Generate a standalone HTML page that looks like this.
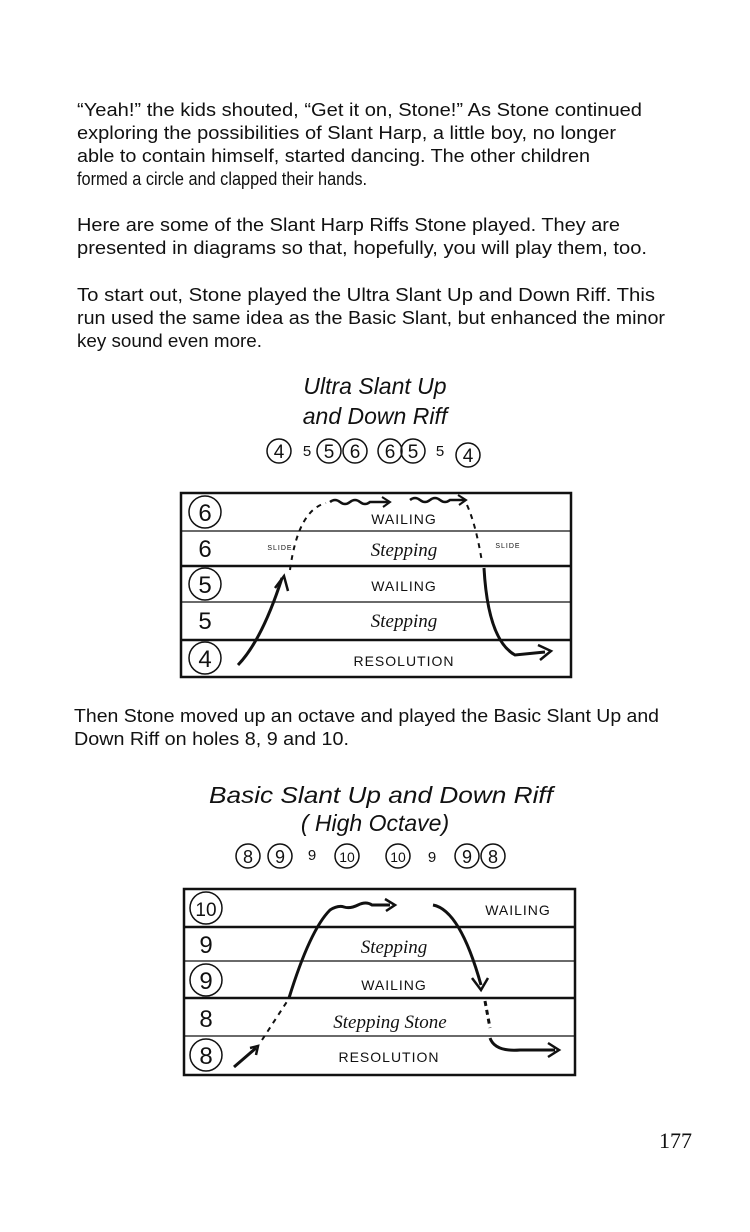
<!DOCTYPE html>
<html><head><meta charset="utf-8"><style>
html,body{margin:0;padding:0;background:#fff}
svg{display:block}
.p{font-family:"Liberation Sans",sans-serif;font-size:18px;fill:#111}
.h{font-family:"Liberation Sans",sans-serif;font-size:23px;fill:#111;font-style:italic}
.l{font-family:"Liberation Sans",sans-serif;font-size:14px;fill:#111;letter-spacing:1px}
.s{font-family:"Liberation Serif",serif;font-size:19px;fill:#111;font-style:italic}
.n{font-family:"Liberation Sans",sans-serif;font-size:24px;fill:#111}
</style></head><body>
<svg width="750" height="1232" viewBox="0 0 750 1232" xmlns="http://www.w3.org/2000/svg">
<text class="p" x="77" y="116" textLength="565" lengthAdjust="spacingAndGlyphs">“Yeah!” the kids shouted, “Get it on, Stone!” As Stone continued</text>
<text class="p" x="77" y="139" textLength="539" lengthAdjust="spacingAndGlyphs">exploring the possibilities of Slant Harp, a little boy, no longer</text>
<text class="p" x="77" y="162" textLength="513" lengthAdjust="spacingAndGlyphs">able to contain himself, started dancing. The other children</text>
<text class="p" x="77" y="185" textLength="290" lengthAdjust="spacingAndGlyphs">formed a circle and clapped their hands.</text>
<text class="p" x="77" y="231" textLength="543" lengthAdjust="spacingAndGlyphs">Here are some of the Slant Harp Riffs Stone played. They are</text>
<text class="p" x="77" y="254" textLength="570" lengthAdjust="spacingAndGlyphs">presented in diagrams so that, hopefully, you will play them, too.</text>
<text class="p" x="77" y="301" textLength="578" lengthAdjust="spacingAndGlyphs">To start out, Stone played the Ultra Slant Up and Down Riff. This</text>
<text class="p" x="77" y="324" textLength="588" lengthAdjust="spacingAndGlyphs">run used the same idea as the Basic Slant, but enhanced the minor</text>
<text class="p" x="77" y="347" textLength="185" lengthAdjust="spacingAndGlyphs">key sound even more.</text>

<text class="h" x="375" y="394" text-anchor="middle">Ultra Slant Up</text>
<text class="h" x="375" y="424" text-anchor="middle">and Down Riff</text>
<g fill="none" stroke="#111" stroke-width="1.5">
<circle cx="279" cy="451" r="12"/><circle cx="329" cy="451" r="12"/><circle cx="355" cy="451" r="12"/><circle cx="390" cy="451" r="12"/><circle cx="413" cy="451" r="12"/><circle cx="468" cy="455" r="12"/>
</g>
<g class="n" style="font-size:19px" text-anchor="middle">
<text x="279" y="458">4</text><text x="307" y="456" style="font-size:15px">5</text><text x="329" y="458">5</text><text x="355" y="458">6</text><text x="390" y="458">6</text><text x="413" y="458">5</text><text x="440" y="456" style="font-size:15px">5</text><text x="468" y="462">4</text>
</g>

<g stroke="#111" fill="none">
<rect x="181" y="493" width="390" height="184" stroke-width="2.5"/>
<line x1="181" y1="531" x2="571" y2="531" stroke-width="1.2"/>
<line x1="181" y1="566" x2="571" y2="566" stroke-width="2.5"/>
<line x1="181" y1="602" x2="571" y2="602" stroke-width="1.2"/>
<line x1="181" y1="640" x2="571" y2="640" stroke-width="2.5"/>
<circle cx="205" cy="512" r="16" stroke-width="1.5"/>
<circle cx="205" cy="584" r="16" stroke-width="1.5"/>
<circle cx="205" cy="658" r="16" stroke-width="1.5"/>
<path d="M238 665 Q262 640 282 578" stroke-width="3"/>
<path d="M275 588 L284 576 L288 591" stroke-width="2.5"/>
<path d="M290 570 Q298 510 326 503" stroke-width="2" stroke-dasharray="5,5"/>
<path d="M330 502 q5 -4 10 0 t10 0 t10 0 t10 0 L388 502" stroke-width="2.5"/>
<path d="M382 497 L390 502 L383 507" stroke-width="2"/>
<path d="M410 500 q5 -4 10 0 t10 0 t10 0 t10 0 L465 500" stroke-width="2.5"/>
<path d="M458 495 L466 500 L459 505" stroke-width="2"/>
<path d="M467 505 Q476 525 482 562" stroke-width="2" stroke-dasharray="5,5"/>
<path d="M484 568 Q488 640 515 655 L545 652" stroke-width="3"/>
<path d="M538 645 L551 651 L540 660" stroke-width="2.5"/>
</g>
<g text-anchor="middle">
<text class="n" x="205" y="521">6</text><text class="n" x="205" y="557">6</text><text class="n" x="205" y="593">5</text><text class="n" x="205" y="629">5</text><text class="n" x="205" y="667">4</text>
<text class="l" x="404" y="524">WAILING</text>
<text class="s" x="404" y="556">Stepping</text>
<text class="l" x="404" y="591">WAILING</text>
<text class="s" x="404" y="627">Stepping</text>
<text class="l" x="404" y="666">RESOLUTION</text>
<text class="l" x="280" y="550" style="font-size:7px">SLIDE</text>
<text class="l" x="508" y="548" style="font-size:7px">SLIDE</text>
</g>

<text class="p" x="74" y="722" textLength="585" lengthAdjust="spacingAndGlyphs">Then Stone moved up an octave and played the Basic Slant Up and</text>
<text class="p" x="74" y="745" textLength="275" lengthAdjust="spacingAndGlyphs">Down Riff on holes 8, 9 and 10.</text>

<text class="h" x="209" y="803" textLength="344" lengthAdjust="spacingAndGlyphs">Basic Slant Up and Down Riff</text>
<text class="h" x="375" y="831" text-anchor="middle">( High Octave)</text>
<g fill="none" stroke="#111" stroke-width="1.5">
<circle cx="248" cy="856" r="12"/><circle cx="280" cy="856" r="12"/><circle cx="347" cy="856" r="12"/><circle cx="398" cy="856" r="12"/><circle cx="467" cy="856" r="12"/><circle cx="493" cy="856" r="12"/>
</g>
<g class="n" style="font-size:18px" text-anchor="middle">
<text x="248" y="863">8</text><text x="280" y="863">9</text><text x="312" y="860" style="font-size:15px">9</text><text x="347" y="862" style="font-size:14px">10</text><text x="398" y="862" style="font-size:14px">10</text><text x="432" y="862" style="font-size:15px">9</text><text x="467" y="863">9</text><text x="493" y="863">8</text>
</g>

<g stroke="#111" fill="none">
<rect x="184" y="889" width="391" height="186" stroke-width="2.5"/>
<line x1="184" y1="927" x2="575" y2="927" stroke-width="2.5"/>
<line x1="184" y1="961" x2="575" y2="961" stroke-width="1.2"/>
<line x1="184" y1="998" x2="575" y2="998" stroke-width="2.5"/>
<line x1="184" y1="1036" x2="575" y2="1036" stroke-width="1.2"/>
<circle cx="206" cy="908" r="16" stroke-width="1.5"/>
<circle cx="206" cy="980" r="16" stroke-width="1.5"/>
<circle cx="206" cy="1055" r="16" stroke-width="1.5"/>
<path d="M234 1067 L256 1048" stroke-width="3"/>
<path d="M250 1048 L258 1046 L256 1055" stroke-width="2.5"/>
<path d="M262 1040 L288 1000" stroke-width="2" stroke-dasharray="5,5"/>
<path d="M289 998 Q310 930 330 910 q8 -5 14 -3 t14 -2 t14 0 L390 905" stroke-width="3"/>
<path d="M385 899 L395 905 L386 911" stroke-width="2.5"/>
<path d="M433 905 Q460 910 481 985" stroke-width="3"/>
<path d="M472 978 L481 990 L488 978" stroke-width="2.5"/>
<path d="M485 1001 L490 1028" stroke-width="3" stroke-dasharray="5,4"/>
<path d="M490 1038 Q495 1052 520 1050 L555 1050" stroke-width="3"/>
<path d="M548 1043 L559 1050 L548 1057" stroke-width="2.5"/>
</g>
<g text-anchor="middle">
<text class="n" x="206" y="916" style="font-size:19px">10</text><text class="n" x="206" y="953">9</text><text class="n" x="206" y="989">9</text><text class="n" x="206" y="1027">8</text><text class="n" x="206" y="1064">8</text>
<text class="l" x="518" y="915">WAILING</text>
<text class="s" x="394" y="953">Stepping</text>
<text class="l" x="394" y="990">WAILING</text>
<text class="s" x="390" y="1028">Stepping Stone</text>
<text class="l" x="389" y="1062">RESOLUTION</text>
</g>

<text x="692" y="1148" text-anchor="end" style="font-family:'Liberation Serif',serif;font-size:22px;fill:#111">177</text>
</svg>
</body></html>
